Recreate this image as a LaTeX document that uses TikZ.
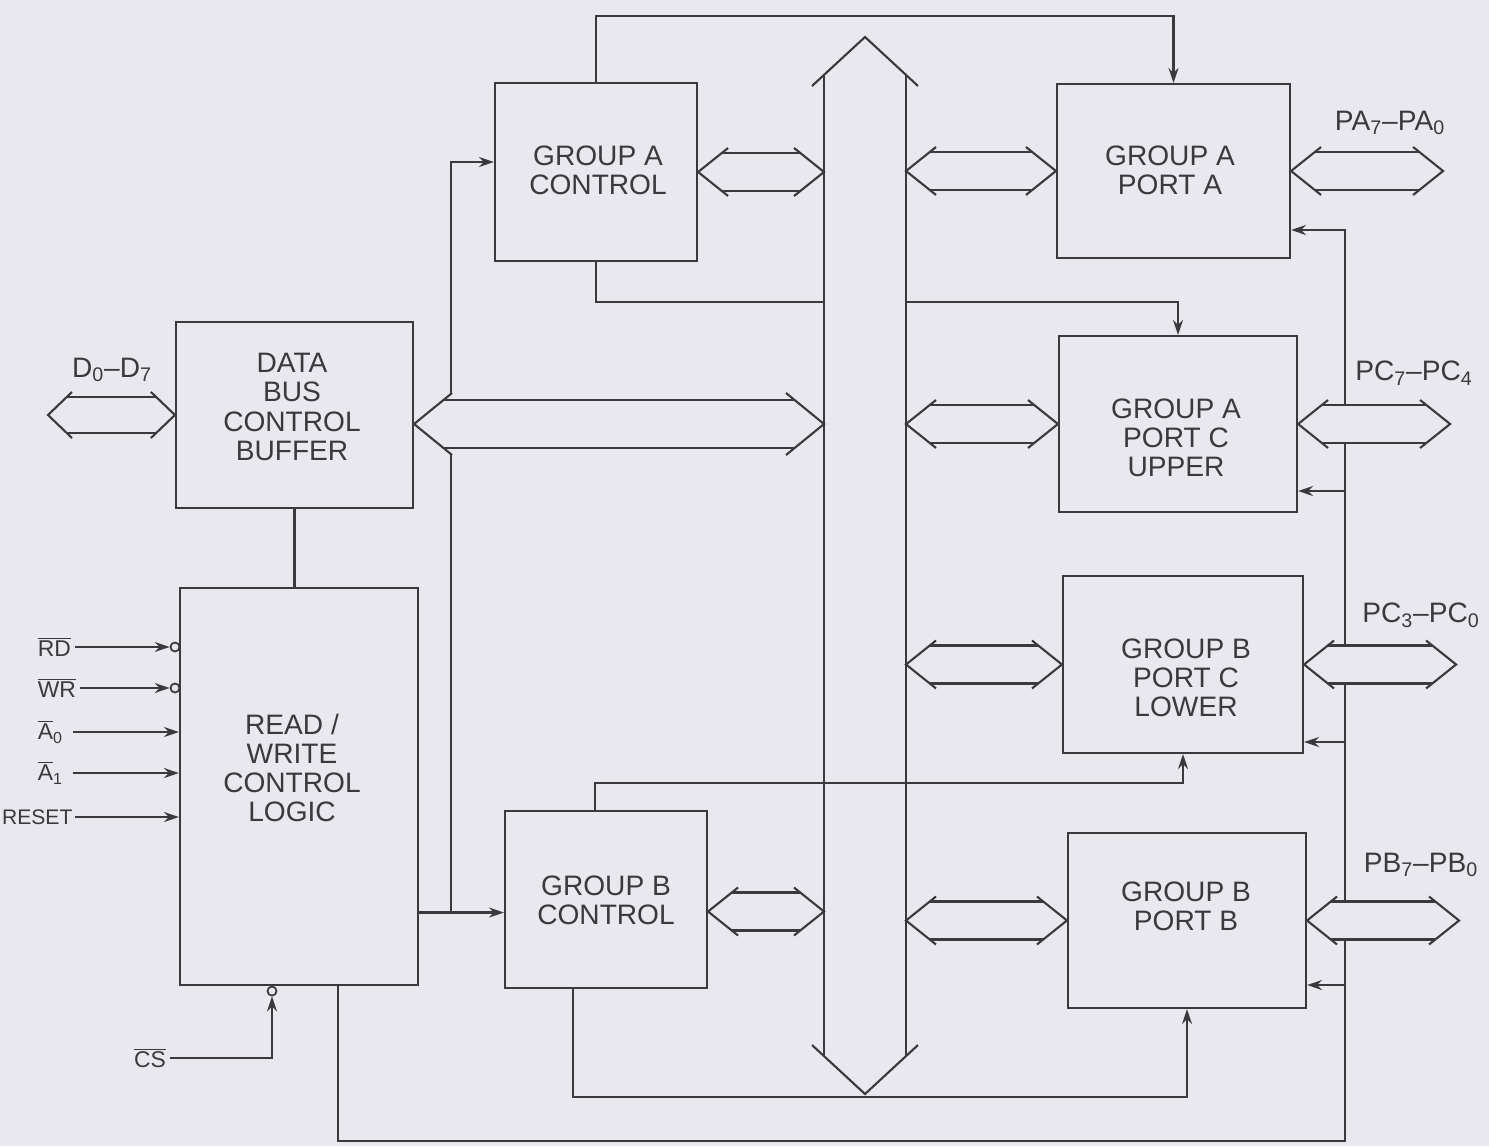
\documentclass[tikz,border=0pt]{standalone}
\usepackage{fontspec}
\setmainfont{Liberation Sans}
\usepackage{tikz}
\usetikzlibrary{arrows.meta,calc}
\definecolor{pageGrey}{RGB}{233,232,238}
\definecolor{inkGrey}{RGB}{58,58,62}

\tikzset{
  wire/.style={inkGrey,line width=1.2pt},
  ok/.style={wire,-{Stealth[length=3mm,width=2mm,inset=1mm]}},
  blok/.style={draw=inkGrey,line width=1.2pt,inner sep=0pt},
  yazi/.style={inkGrey,align=center,font=\fontsize{16}{16.6}\selectfont},
  etiket/.style={inkGrey,inner sep=0pt,font=\fontsize{16}{16}\selectfont},
  giris/.style={inkGrey,inner sep=2pt,font=\fontsize{13}{14}\selectfont},
  kabarcik/.style={circle,draw=inkGrey,line width=1pt,fill=pageGrey,minimum size=0.18cm,inner sep=0pt},
}

% #1 left end, #2 right end, #3 shaft, #4 wing, #5 head
\newcommand{\fatArrow}[5]{%
  \fill[pageGrey] (#1) -- ($(#1)+(#5,-#4)$) -- ($(#1)+(#5,-#3)$) -- ($(#2)+(-#5,-#3)$)
    -- ($(#2)+(-#5,-#4)$) -- (#2) -- ($(#2)+(-#5,#4)$) -- ($(#2)+(-#5,#3)$)
    -- ($(#1)+(#5,#3)$) -- ($(#1)+(#5,#4)$) -- cycle;
  \draw[wire] ($(#1)+(#5,-#4)$) -- (#1) -- ($(#1)+(#5,#4)$);
  \draw[wire] ($(#2)+(-#5,-#4)$) -- (#2) -- ($(#2)+(-#5,#4)$);
  \draw[wire] ($(#1)+({#5*#3/#4},-#3)$) -- ($(#2)+({-#5*#3/#4},-#3)$);
  \draw[wire] ($(#1)+({#5*#3/#4},#3)$) -- ($(#2)+({-#5*#3/#4},#3)$);
}

\begin{document}
\begin{tikzpicture}[x=0.2mm,y=-0.2mm]
\path[use as bounding box,fill=pageGrey] (0,0) rectangle (1489,1146);

% blocks
\node[blok,minimum width=4.74cm,minimum height=3.72cm] (dbb) at (294.5,415) {};
\node[blok,minimum width=4.76cm,minimum height=7.94cm] (rwl) at (299,786.5) {};
\node[blok,minimum width=4.04cm,minimum height=3.56cm] (gac) at (596,172) {};
\node[blok,minimum width=4.04cm,minimum height=3.54cm] (gbc) at (606,899.5) {};
\node[blok,minimum width=4.66cm,minimum height=3.48cm] (pa) at (1173.5,171) {};
\node[blok,minimum width=4.76cm,minimum height=3.52cm] (pcu) at (1178,424) {};
\node[blok,minimum width=4.80cm,minimum height=3.54cm] (pcl) at (1183,664.5) {};
\node[blok,minimum width=4.76cm,minimum height=3.50cm] (pb) at (1187,920.5) {};

\node[yazi] (dbbT) at (292,407) {DATA\\BUS\\CONTROL\\BUFFER};
\node[yazi] (rwlT) at (292,768) {READ /\\WRITE\\CONTROL\\LOGIC};
\node[yazi] (gacT) at (598,170) {GROUP A\\CONTROL};
\node[yazi] (gbcT) at (606,900) {GROUP B\\CONTROL};
\node[yazi] (paT) at (1170,170) {GROUP A\\PORT A};
\node[yazi] (pcuT) at (1176,438) {GROUP A\\PORT C\\UPPER};
\node[yazi] (pclT) at (1186,678) {GROUP B\\PORT C\\LOWER};
\node[yazi] (pbT) at (1186,906) {GROUP B\\PORT B};

% internal bus
\coordinate (busTop) at (865,37);
\coordinate (busBot) at (865,1094);
\coordinate (busL) at (824,0);
\coordinate (busR) at (906,0);
\draw[wire] ($(busTop)+(-53,49)$) -- (busTop) -- ($(busTop)+(53,49)$);
\draw[wire] ($(busTop)+(-41,38)$) -- ($(busBot)+(-41,-38)$);
\draw[wire] ($(busTop)+(41,38)$) -- ($(busBot)+(41,-38)$);
\draw[wire] ($(busBot)+(-53,-49)$) -- (busBot) -- ($(busBot)+(53,-49)$);

% control lines
\coordinate (topRail) at (0,16);
\coordinate (midRail) at (0,302);
\coordinate (lowRail) at (0,783);
\coordinate (botRail) at (0,1097);
\coordinate (baseRail) at (0,1141);
\coordinate (sideRail) at (1345,0);
\coordinate (splitA) at (451,0);
\draw[wire] (dbb.south) -- (dbb.south |- rwl.north);
\coordinate (rwOut) at ($(gbc.west)+(0,13)$);
\coordinate (gacIn) at ($(gac.west)+(0,-10)$);
\draw[ok] (rwOut -| rwl.east) -- (rwOut);
\draw[ok] (rwOut -| splitA) |- (gacIn);
\draw[ok] (gac.north) |- (topRail -| pa.north) -- (pa.north);
\draw[wire] (gac.south) |- (midRail -| busL);
\draw[ok] (midRail -| busR) -| (pcu.north);
\draw[ok] ($(gbc.north)+(-11,0)$) |- (lowRail -| pcl.south) -- (pcl.south);
\draw[ok] ($(gbc.south)+(-33,0)$) |- (botRail -| pb.south) -- (pb.south);
\coordinate (tapA) at (1345,230);
\draw[ok] ($(rwl.south)+(39,0)$) |- (baseRail -| sideRail) -- (tapA) -- (tapA -| pa.east);
\foreach \p/\yy in {pcu/491,pcl/742,pb/985} {
  \coordinate (tap) at (1345,\yy);
  \draw[ok] (tap) -- (tap -| \p.east);
}

% inputs
\node[giris,anchor=west] (rd) at (34,647) {$\overline{\hbox{RD}}$};
\node[giris,anchor=west] (wr) at (34,688) {$\overline{\hbox{WR}}$};
\node[kabarcik] (rdB) at (175,647) {};
\node[kabarcik] (wrB) at (175,688) {};
\draw[ok] (rd.east) -- (rdB.west);
\draw[ok] (wr.east) -- (wrB.west);
\foreach \ad/\yy/\metin in {a0/732/{$\overline{\hbox{A}}$\textsubscript{0}},a1/773/{$\overline{\hbox{A}}$\textsubscript{1}}} {
  \node[giris,anchor=west] (\ad) at (34,\yy) {\metin};
  \draw[ok] ($(\ad.east)+(6,0)$) -- (\ad.east -| rwl.west);
}
\node[giris,anchor=west,inner sep=1pt,font=\fontsize{12}{14}\selectfont] (rst) at (0,817) {RESET};
\draw[ok] (rst.east) -- (rst.east -| rwl.west);
\node[giris] (cs) at (150,1058) {$\overline{\hbox{CS}}$};
\node[kabarcik] (csB) at ($(rwl.south)+(-27,5)$) {};
\draw[ok] (cs.east) -| (csB.south);

% bus arrows
\coordinate (dIn) at (48,415);
\fatArrow{dIn}{dbb.west}{18}{23}{24}
\coordinate (dbbR) at ($(dbb.east)+(0,9)$);
\fatArrow{dbbR}{dbbR -| busL}{24}{31}{38}
\fatArrow{gac.east}{gac.east -| busL}{19}{24}{30}
\coordinate (gbcR) at ($(gbc.east)+(0,12)$);
\fatArrow{gbcR}{gbcR -| busL}{19}{24}{30}
\foreach \p in {pa,pcu,pcl,pb} {
  \fatArrow{busR |- \p.west}{\p.west}{19}{24}{30}
  \coordinate (\p Out) at ($(\p.east)+(152,0)$);
  \fatArrow{\p.east}{\p Out}{19}{24}{30}
}

\node[etiket] (dLbl) at (112,370) {D\textsubscript{0}–D\textsubscript{7}};
\node[etiket] (paLbl) at (1390,123) {PA\textsubscript{7}–PA\textsubscript{0}};
\node[etiket] (pcuLbl) at (1414,373) {PC\textsubscript{7}–PC\textsubscript{4}};
\node[etiket] (pclLbl) at (1421,615) {PC\textsubscript{3}–PC\textsubscript{0}};
\node[etiket] (pbLbl) at (1421,865) {PB\textsubscript{7}–PB\textsubscript{0}};
\end{tikzpicture}
\end{document}
